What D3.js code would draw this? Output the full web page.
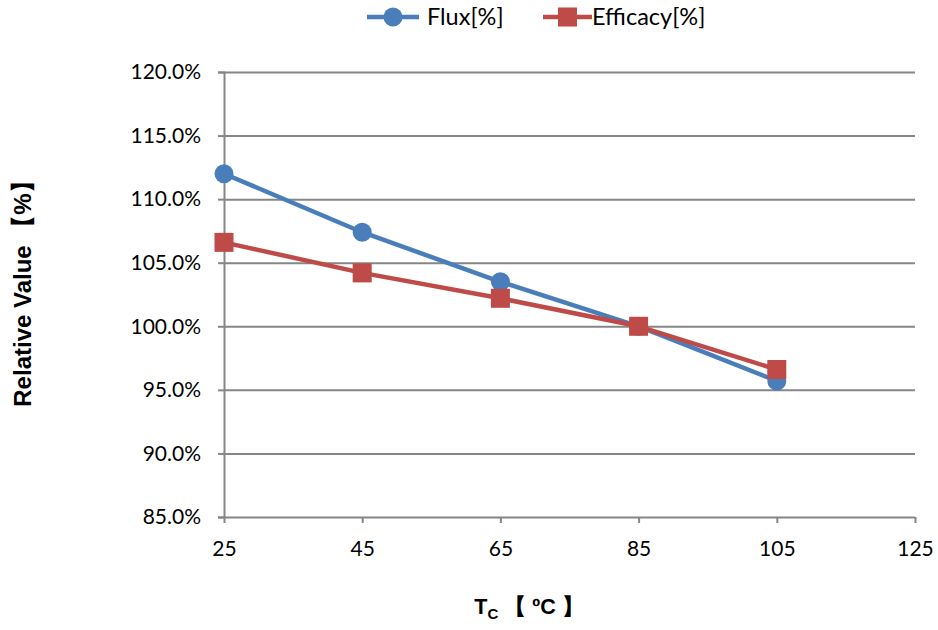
<!DOCTYPE html>
<html><head><meta charset="utf-8">
<script src="https://cdn.jsdelivr.net/npm/d3@7"></script>
<style>body{margin:0;background:#fff}</style>
</head><body>
<svg id="c" width="938" height="630"></svg>
<script>
const temps = [25, 45, 65, 85, 105];
const flux = [112.0, 107.4, 103.5, 100.0, 95.7];
const efficacy = [106.6, 104.2, 102.2, 100.0, 96.6];
const xTicks = [25, 45, 65, 85, 105, 125];
const yTicks = [85, 90, 95, 100, 105, 110, 115, 120];
const seriesNames = ["Flux[%]", "Efficacy[%]"];
const colors = ["#4a7ebb", "#be4b48"];

const svg = d3.select("#c");
const L = 224, R = 915, T = 72, B = 517;
const x = d3.scaleLinear().domain([25, 125]).range([L, R]);
const y = d3.scaleLinear().domain([85, 120]).range([B, T]);
const tickFont = "Lato, 'Open Sans', sans-serif";

const yAxis = d3.axisLeft(y).tickValues(yTicks).tickSize(6).tickPadding(17)
  .tickFormat(d => d.toFixed(1) + "%");
const gy = svg.append("g").attr("transform", `translate(${L},0)`).call(yAxis);
gy.select(".domain").attr("stroke", "#868686").attr("stroke-width", 2);
gy.selectAll(".tick line").attr("stroke", "#868686").attr("stroke-width", 2);
gy.selectAll(".tick").append("line").attr("x1", 0).attr("x2", R - L)
  .attr("stroke", "#868686").attr("stroke-width", 2);
gy.selectAll("text").attr("font-family", tickFont).attr("font-size", 21).attr("fill", "#000");

const xAxis = d3.axisBottom(x).tickValues(xTicks).tickSize(6).tickPadding(18)
  .tickFormat(d3.format("d"));
const gx = svg.append("g").attr("transform", `translate(0,${B})`).call(xAxis);
gx.select(".domain").remove();
gx.selectAll(".tick line").attr("stroke", "#868686").attr("stroke-width", 2);
gx.selectAll("text").attr("font-family", tickFont).attr("font-size", 21).attr("fill", "#000");

const line = d3.line().x((d, i) => x(temps[i])).y(d => y(d));
const data = [flux, efficacy];
data.forEach((s, k) => {
  svg.append("path").datum(s).attr("d", line).attr("fill", "none")
    .attr("stroke", colors[k]).attr("stroke-width", 4.5).attr("stroke-linejoin", "round");
});
svg.selectAll(".m0").data(flux).join("circle").attr("class", "m0")
  .attr("cx", (d, i) => x(temps[i])).attr("cy", d => y(d)).attr("r", 9.5).attr("fill", colors[0]);
svg.selectAll(".m1").data(efficacy).join("rect").attr("class", "m1")
  .attr("x", (d, i) => x(temps[i]) - 9.5).attr("y", d => y(d) - 9.5)
  .attr("width", 19).attr("height", 19).attr("fill", colors[1]);

const leg = [{x0: 367, x1: 419, tx: 427}, {x0: 543, x1: 592, tx: 592}];
leg.forEach((l, k) => {
  const g = svg.append("g");
  g.append("line").attr("x1", l.x0).attr("x2", l.x1).attr("y1", 17).attr("y2", 17)
    .attr("stroke", colors[k]).attr("stroke-width", 4.5);
  const cx = (l.x0 + l.x1) / 2;
  if (k === 0) g.append("circle").attr("cx", cx).attr("cy", 17).attr("r", 9.5).attr("fill", colors[k]);
  else g.append("rect").attr("x", cx - 9.5).attr("y", 7.5).attr("width", 19).attr("height", 19).attr("fill", colors[k]);
  g.append("text").attr("x", l.tx).attr("y", 25).attr("font-family", tickFont)
    .attr("font-size", 23.5).attr("fill", "#000").text(seriesNames[k]);
});

svg.append("text").attr("transform", "translate(31,288) rotate(-90)")
  .attr("text-anchor", "middle").attr("font-family", "'Liberation Sans', Arial, sans-serif")
  .attr("font-weight", "bold").attr("font-size", 24).text("Relative Value 【%】");
const xt = svg.append("text").attr("x", 529).attr("y", 614).attr("text-anchor", "middle")
  .attr("font-family", "'Liberation Sans', Arial, sans-serif").attr("font-weight", "bold").attr("font-size", 21.5);
xt.append("tspan").text("T");
xt.append("tspan").attr("font-size", 15).attr("dy", 5).text("C");
xt.append("tspan").attr("dy", -5).text(" 【 ºC 】");
</script>
</body></html>
